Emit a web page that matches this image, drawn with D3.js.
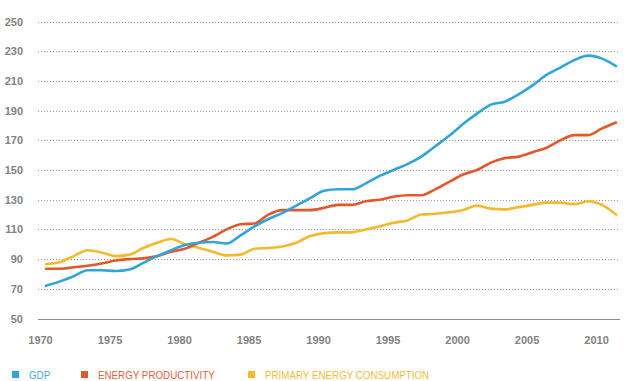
<!DOCTYPE html>
<html>
<head>
<meta charset="utf-8">
<script src="https://cdn.jsdelivr.net/npm/d3@7"></script>
<style>
  body { margin: 0; background: #fff; }
  svg { display: block; }
</style>
</head>
<body>
<div class="chart"></div>
<script>
let years = d3.range(1970, 2012);
let gdp = [72, 75, 78.5, 82.5, 82.5, 82, 83, 87.5, 92, 96, 99.5,
           101, 101.5, 100.5, 106, 112, 117, 121, 126, 131, 136,
           137, 137, 141, 146, 150, 154, 159, 166, 173, 181,
           188, 194, 196, 201, 207, 214, 219, 224, 227, 225, 220];
let energyProductivity = [83.5, 83.5, 84.5, 85.5, 87, 89, 90, 90.5, 92, 95, 97,
           101, 105, 110, 113.5, 114, 120, 123, 123, 123, 124.5,
           126.5, 126.5, 129, 130, 132, 133, 133, 137, 142, 147,
           150, 155, 158, 159, 162, 165, 170, 173.5, 173.5, 178, 182];
let primaryEnergy = [86.5, 88, 92, 96, 94.5, 92, 93, 97.5, 101, 103.5, 100,
           97.5, 95, 92.5, 93, 97, 97.5, 98.5, 101, 105.5, 107.5,
           108, 108, 110, 112, 114.5, 116, 120, 120.5, 121.5, 123,
           126, 124, 123.5, 125, 126.5, 128, 128, 127, 129, 126.5, 120];
let yTicks = [50, 70, 90, 110, 130, 150, 170, 190, 210, 230, 250];
let xTicks = [1970, 1975, 1980, 1985, 1990, 1995, 2000, 2005, 2010];
let seriesNames = ["GDP", "ENERGY PRODUCTIVITY", "PRIMARY ENERGY CONSUMPTION"];

let w = 624, h = 381;
let colors = ["#31a5d9", "#e2582b", "#f4b92c"];
let legendColors = ["#45acdc", "#e0603a", "#f1bd3a"];

let svg = d3.select(".chart").append("svg").attr("width", w).attr("height", h);

let xScale = d3.scaleLinear().domain([1970, 2011]).range([46, 616]);
let yScale = d3.scaleLinear().domain([50, 250]).range([318.5, 21.5]);

// grid
svg.append("g").selectAll("line")
  .data(yTicks)
  .enter()
  .append("line")
  .attr("x1", 38)
  .attr("x2", 620)
  .attr("y1", d => Math.round(yScale(d)) + 0.5)
  .attr("y2", d => Math.round(yScale(d)) + 0.5)
  .attr("stroke", d => d == 50 ? "#8c8c8c" : "#9a9a9a")
  .attr("stroke-width", d => d == 50 ? 1.2 : 1)
  .attr("stroke-dasharray", d => d == 50 ? null : "1,2");

let yAxis = d3.axisLeft(yScale).tickValues(yTicks).tickSize(0).tickPadding(0);
svg.append("g")
  .attr("transform", "translate(23,0)")
  .call(yAxis)
  .call(g => g.select(".domain").remove())
  .selectAll("text")
  .attr("fill", "#828282")
  .style("font-family", "'Liberation Sans', Arial, sans-serif")
  .style("font-weight", "bold")
  .style("font-size", "11px");

let xAxis = d3.axisBottom(xScale).tickValues(xTicks).tickFormat(d3.format("d")).tickSize(0).tickPadding(0);
svg.append("g")
  .attr("transform", "translate(-6,336)")
  .call(xAxis)
  .call(g => g.select(".domain").remove())
  .selectAll("text")
  .attr("fill", "#828282")
  .style("font-family", "'Liberation Sans', Arial, sans-serif")
  .style("font-weight", "bold")
  .style("font-size", "11px");

// lines
let allSeries = [gdp, energyProductivity, primaryEnergy];
let line = d3.line()
  .x((d, i) => xScale(years[i]))
  .y(d => yScale(d))
  .curve(d3.curveMonotoneX);

// draw yellow first, then orange, then blue on top
[2, 1, 0].forEach(k => {
  svg.append("path")
    .datum(allSeries[k])
    .attr("d", line)
    .attr("fill", "none")
    .attr("stroke", colors[k])
    .attr("stroke-width", 2.6)
    .attr("stroke-linejoin", "round")
    .attr("stroke-linecap", "round");
});

// legend
let legendX = [12, 81, 248];
let legend = svg.append("g").attr("class", "legend");
seriesNames.forEach((name, i) => {
  legend.append("rect")
    .attr("x", legendX[i])
    .attr("y", 371)
    .attr("width", 7)
    .attr("height", 7)
    .attr("fill", colors[i]);
  // condensed look: squeeze the text horizontally
  legend.append("text")
    .text(name)
    .attr("transform", "translate(" + (legendX[i] + 17) + ",378.5) scale(0.89,1)")
    .attr("fill", legendColors[i])
    .style("font-family", "'Liberation Sans', Arial, sans-serif")
    .style("font-size", "11px");
});
</script>
</body>
</html>
